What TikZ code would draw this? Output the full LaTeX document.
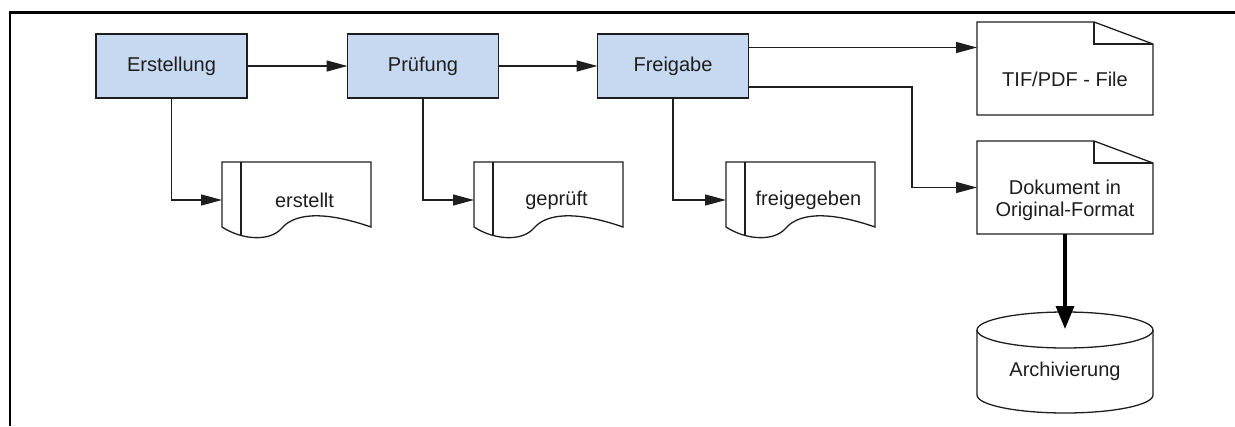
\documentclass[tikz,border=0pt]{standalone}
\usepackage{fontspec}
\setmainfont{Liberation Sans}
\usetikzlibrary{arrows.meta,calc}
\definecolor{stepfill}{RGB}{198,217,241}
\definecolor{inkline}{RGB}{30,30,30}
\begin{document}
\begin{tikzpicture}[x=1pt,y=-1pt,
  font=\fontsize{20}{22}\selectfont,
  every node/.style={inner sep=0pt, outer sep=0pt, text=inkline},
  stepbox/.style={draw=inkline, line width=1.3pt, fill=stepfill,
    minimum width=151pt, minimum height=64pt},
  wavebox/.style={minimum width=149pt, minimum height=76pt},
  foldbox/.style={minimum width=176pt, minimum height=93pt},
  storebox/.style={minimum width=176pt, minimum height=101pt},
  outline/.style={draw=inkline, line width=1.3pt, line join=miter},
  flow/.style={draw=inkline, line width=1.3pt,
    -{Triangle[length=21pt,width=11pt]}},
  bigflow/.style={draw=black, line width=3.5pt,
    -{Triangle[length=23pt,width=18pt]}}]

\useasboundingbox (0,0) rectangle (1235,426);

% frame (top and left edge)
\draw[line width=2.7pt, line join=miter] (10,426) -- (10,12.7) -- (1235,12.7);

% process steps
\node[stepbox] (erst)  at (171.5,66) {Erstellung};
\node[stepbox] (pruef) at (423,66)   {Prüfung};
\node[stepbox] (frei)  at (673,66)   {Freigabe};

% status documents with wavy bottom
\node[wavebox] (d1) at (296.5,200) {};
\node[wavebox] (d2) at (548.5,200) {};
\node[wavebox] (d3) at (800.5,200) {};
\foreach \d/\t in {d1/erstellt, d2/geprüft, d3/freigegeben}{
  \draw[outline, shift={(\d.north west)}]
    (0,0) -- (149,0) -- (149,65)
    .. controls (100,48) and (72,52) .. (60,66)
    .. controls (48,80) and (20,78) .. (0,65) -- cycle;
  \draw[outline, shift={(\d.north west)}] (19,0) -- (19,73.6);
  \node at ($(\d.center)+(8,0)$) {\t};
}

% output files with folded corner
\node[foldbox] (tif) at (1065,68.5) {};
\node[foldbox] (dok) at (1065,187.5) {};
\foreach \d in {tif, dok}{
  \draw[outline, shift={(\d.north west)}]
    (0,0) -- (117,0) -- (176,22) -- (176,93) -- (0,93) -- cycle;
  \draw[outline, shift={(\d.north west)}] (117,0) -- (117,22) -- (176,22);
}
\node at ($(tif.center)+(0,11)$) {TIF/PDF - File};
\node[align=center] at ($(dok.center)+(0,12.5)$) {Dokument in\\Original-Format};

% archive cylinder
\node[storebox] (arch) at (1065,362.5) {};
\draw[outline, shift={(arch.north west)}]
  (0,18) -- (0,83) arc (180:0:88 and 18) -- (176,18) arc (0:-180:88 and 18) -- cycle;
\draw[outline, shift={(arch.north west)}] (0,18) arc (180:0:88 and 18);
\node at ($(arch.center)+(0,9)$) {Archivierung};

% connectors
\draw[flow] (erst) -- (pruef);
\draw[flow] (pruef) -- (frei);
\draw[flow] (erst.south) |- (d1.west);
\draw[flow] (pruef.south) |- (d2.west);
\draw[flow] (frei.south) |- (d3.west);
\coordinate (fa) at ($(frei.north east)+(0,13.5)$);
\draw[flow] (fa) -- (fa -| tif.west);
\coordinate (fb) at ($(frei.south east)+(0,-11)$);
\draw[flow] (fb) -| ($(dok.west)+(-65,0)$) -- (dok.west);
\draw[bigflow] (dok.south) -- ($(arch.north)+(0,17)$);
\end{tikzpicture}
\end{document}
